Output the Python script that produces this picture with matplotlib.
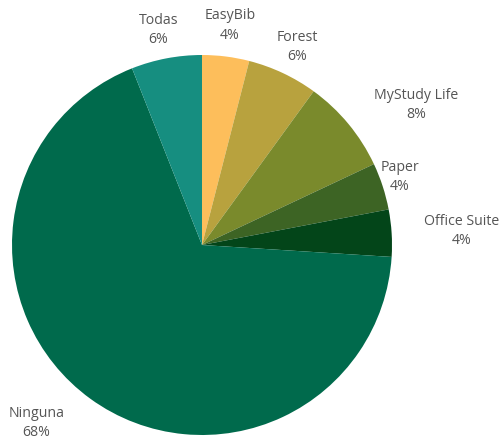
import numpy as np
import matplotlib.pyplot as plt

plt.rcParams['font.family'] = ['Open Sans', 'DejaVu Sans']

# datos
apps = ['EasyBib', 'Forest', 'MyStudy Life', 'Paper', 'Office Suite', 'Ninguna', 'Todas']
porcentajes = [4, 6, 8, 4, 4, 68, 6]
colores = ['#FDBE5B', '#B8A23E', '#7A8A2C', '#3D6424', '#034519', '#006A4C', '#168E80']

# colocacion de etiquetas (distancia al centro y giro respecto al centro de la porcion)
dist_etiqueta = [1.165, 1.155, 1.345, 1.10, 1.37, 1.28, 1.155]
giro_etiqueta = [0, -0.4, -6.4, 1.0, -0.5, -7.0, 0.6]

fig = plt.figure(figsize=(5.01, 4.41), dpi=100)
ax = fig.add_axes([12 / 501, 6 / 441, 380 / 501, 380 / 441])

wedges, _ = ax.pie(porcentajes, colors=colores, startangle=90, counterclock=False,
                   wedgeprops=dict(linewidth=0))

for w, nombre, p, d, g in zip(wedges, apps, porcentajes, dist_etiqueta, giro_etiqueta):
    ang = np.deg2rad((w.theta1 + w.theta2) / 2 + g)
    ax.text(d * np.cos(ang), d * np.sin(ang), f'{nombre}\n{p}%',
            ha='center', va='center', fontsize=10.2, color='#555555',
            linespacing=1.4, clip_on=False)

ax.set_xlim(-1, 1)
ax.set_ylim(-1, 1)
ax.set_aspect('auto')
ax.axis('off')

fig.savefig('out.png', dpi=100)
